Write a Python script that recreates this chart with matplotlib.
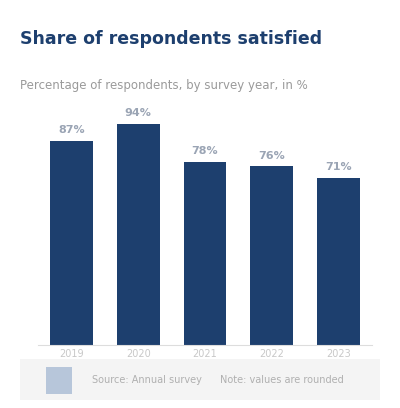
import matplotlib
matplotlib.use("Agg")
import matplotlib.pyplot as plt
from matplotlib.patches import Rectangle

categories = ["2019", "2020", "2021", "2022", "2023"]
values = [87, 94, 78, 76, 71]
value_labels = ["87%", "94%", "78%", "76%", "71%"]

title = "Share of respondents satisfied"
subtitle = "Percentage of respondents, by survey year, in %"
source = "Source: Annual survey"
note = "Note: values are rounded"

bar_color = "#1d3f6e"

fig = plt.figure(figsize=(4.0, 4.08), dpi=100)
fig.patch.set_facecolor("white")

fig.text(0.05, 0.905, title, fontsize=12.5, fontweight="bold", color=bar_color,
         ha="left", va="center")
fig.text(0.05, 0.79, subtitle, fontsize=8.5, color="#9a9a9a", ha="left", va="center")

ax = fig.add_axes([0.095, 0.155, 0.835, 0.575])
x = list(range(len(categories)))
bars = ax.bar(x, values, width=0.64, color=bar_color)
for xi, v, lab in zip(x, values, value_labels):
    ax.text(xi, v + 2.5, lab, ha="center", va="bottom", fontsize=8,
            color="#9aa4b4", fontweight="bold")
ax.set_xlim(-0.5, len(categories) - 0.5)
ax.set_ylim(0, 100)
ax.set_xticks(x)
ax.set_xticklabels(categories, fontsize=7, color="#c8c8c8")
ax.tick_params(axis="x", length=0, pad=3)
ax.set_yticks([])
for s in ["top", "right", "left"]:
    ax.spines[s].set_visible(False)
ax.spines["bottom"].set_color("#dddddd")

# footer
fig.patches.append(Rectangle((0.05, 0.02), 0.9, 0.1, transform=fig.transFigure,
                             facecolor="#f4f4f4", edgecolor="none", zorder=0))
fig.patches.append(Rectangle((0.115, 0.035), 0.065, 0.065, transform=fig.transFigure,
                             facecolor="#b7c6da", edgecolor="none", zorder=1))
fig.text(0.23, 0.068, source, fontsize=7, color="#b0b0b0", ha="left", va="center")
fig.text(0.55, 0.068, note, fontsize=7, color="#b0b0b0", ha="left", va="center")

fig.savefig("out.png", dpi=100, facecolor="white")
